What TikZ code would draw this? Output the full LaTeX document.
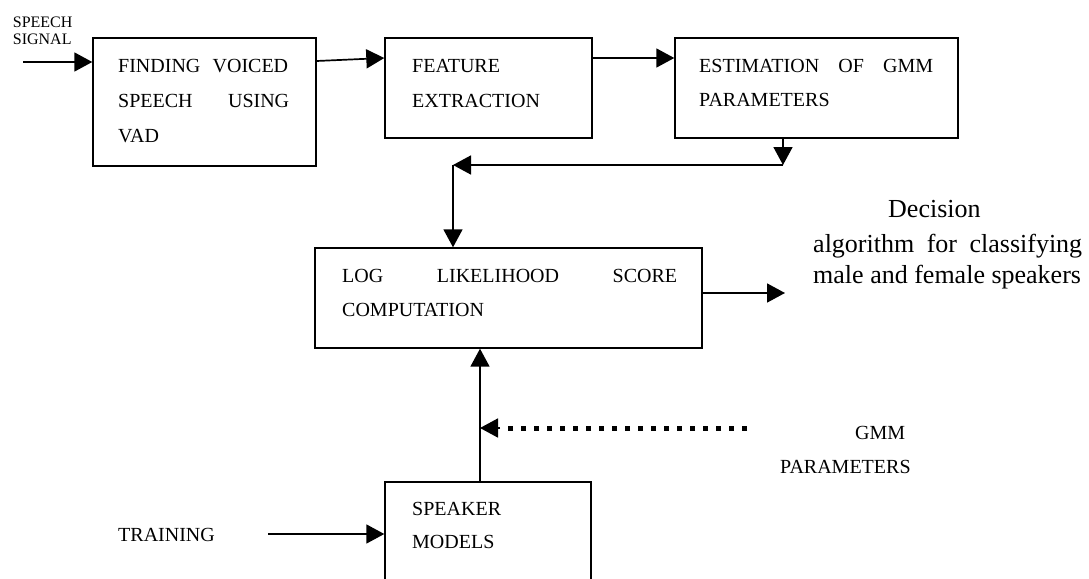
\documentclass[tikz,border=0pt]{standalone}
\usepackage{fontspec}
\setmainfont{Liberation Serif}
\usetikzlibrary{arrows.meta}
\begin{document}
\begin{tikzpicture}[x=1pt,y=-1pt,
  box/.style={draw, line width=1.4pt, inner sep=0pt},
  txt/.style={anchor=base west, inner sep=0pt, font=\fontsize{20}{24}\selectfont},
  smalltxt/.style={anchor=base west, inner sep=0pt, font=\fontsize{16}{18}\selectfont},
  dectxt/.style={anchor=base west, inner sep=0pt, font=\fontsize{26}{30}\selectfont},
  arr/.style={line width=1.7pt, -{Triangle[length=18pt,width=19pt]}},
  dotline/.style={line width=5pt, dash pattern=on 5.5pt off 7.5pt}]
\useasboundingbox (0,0) rectangle (1089,578);
\clip (0,0) rectangle (1089,578);
\fill[white] (0,0) rectangle (1089,578);

% boxes
\node[box, minimum width=223pt, minimum height=128pt] (b1) at (204.5,102) {};
\node[box, minimum width=207pt, minimum height=100pt] (b2) at (488.5,88) {};
\node[box, minimum width=283pt, minimum height=100pt] (b3) at (816.5,88) {};
\node[box, minimum width=387pt, minimum height=100pt] (b4) at (508.5,298) {};
\node[box, minimum width=206pt, minimum height=158pt] (b5) at (488,561) {};

% box texts
\node[txt] (t1a) at (118,72) {\hbox to 170pt{FINDING\hfill VOICED}};
\node[txt] (t1b) at (118,107) {\hbox to 171pt{SPEECH\hfill USING}};
\node[txt] (t1c) at (118,142) {VAD};
\node[txt] (t2a) at (412,72) {FEATURE};
\node[txt] (t2b) at (412,107) {EXTRACTION};
\node[txt] (t3a) at (699,72) {\hbox to 234pt{ESTIMATION\hfill OF\hfill GMM}};
\node[txt] (t3b) at (699,106) {PARAMETERS};
\node[txt] (t4a) at (342,282) {\hbox to 335pt{LOG\hfill LIKELIHOOD\hfill SCORE}};
\node[txt] (t4b) at (342,316) {COMPUTATION};
\node[txt] (t5a) at (412,515) {SPEAKER};
\node[txt] (t5b) at (412,548) {MODELS};

% free labels
\node[smalltxt] (sig1) at (12.7,28) {SPEECH};
\node[smalltxt] (sig2) at (12.7,45) {SIGNAL};
\node[txt] (train) at (118,541) {TRAINING};
\node[txt] (gmm) at (855,439) {GMM};
\node[txt] (gmmp) at (780,473) {PARAMETERS};
\node[dectxt] (dec1) at (888,217) {Decision};
\node[dectxt] (dec2) at (813,252) {\hbox to 269pt{algorithm\hfill for\hfill classifying}};
\node[dectxt] (dec3) at (813,283) {male and female speakers};

% coordinates
\coordinate (sigstart) at (23,62);
\coordinate (y61) at (0,61);
\coordinate (y58) at (0,58);
\coordinate (c1) at (783,165);
\coordinate (c2) at (453,165);
\coordinate (outend) at (785,293);
\coordinate (up) at (480,428);
\coordinate (dotstart) at (747,428);
\coordinate (dotend) at (500,428);
\coordinate (trainstart) at (268,534);

% connectors
\draw[arr] (sigstart) -- (sigstart -| b1.west);
\draw[arr] (b1.east |- y61) -- (b2.west |- y58);
\draw[arr] (b2.east |- y58) -- (b3.west |- y58);
\draw[arr] (c1 |- b3.south) -- (c1);
\draw[arr] (c1) -- (c2);
\draw[arr] (c2) -- (c2 |- b4.north);
\draw[arr] (b4.east |- outend) -- (outend);
\draw[arr] (up |- b5.north) -- (up |- b4.south);
\draw[dotline] (dotstart) -- (dotend);
\draw[arr] (dotend) -- (up);
\draw[arr] (trainstart) -- (trainstart -| b5.west);
\end{tikzpicture}
\end{document}
